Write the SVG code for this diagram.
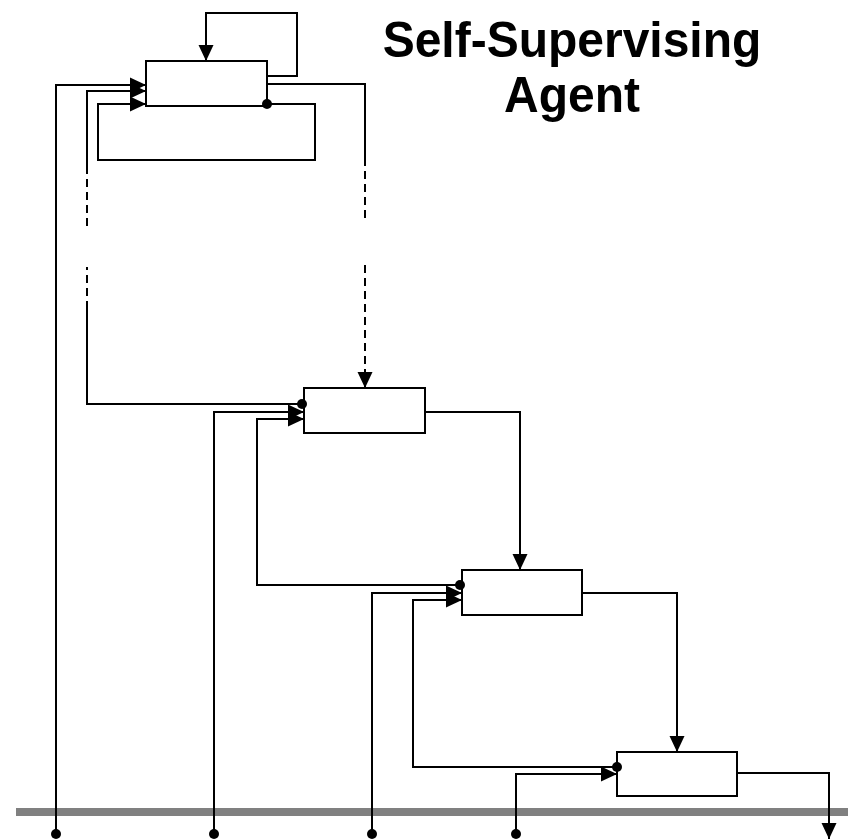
<svg xmlns="http://www.w3.org/2000/svg" width="848" height="839" viewBox="0 0 848 839">
  <style>
    .box { fill: #ffffff; stroke: #000000; stroke-width: 2; }
    .wire { fill: none; stroke: #000000; stroke-width: 2; }
    .dash { fill: none; stroke: #000000; stroke-width: 2; stroke-dasharray: 8 5; }
    .dot { fill: #000000; }
    .title { font-family: "Liberation Sans", Arial, sans-serif; font-weight: bold; font-size: 48px; fill: #000000; text-anchor: middle; }
  </style>
  <defs>
    <marker id="arrow" markerUnits="userSpaceOnUse" markerWidth="16" markerHeight="16" refX="16" refY="8" orient="auto">
      <path d="M0,0.5 L16,8 L0,15.5 Z" fill="#000000"/>
    </marker>
  </defs>

  <!-- title -->
  <g id="title">
    <text class="title" transform="translate(572,57) scale(1,1.05)">Self-Supervising</text>
    <text class="title" transform="translate(572,112) scale(1,1.05)">Agent</text>
  </g>

  <!-- environment bar -->
  <rect id="bar" x="16" y="808" width="832" height="8" fill="#808080"/>

  <g id="connectors">
    <!-- top agent self-loop -->
    <path class="wire" d="M267,76 H297 V13 H206 V61" marker-end="url(#arrow)"/>
    <!-- top agent output down to second agent (partly dashed) -->
    <path class="wire" d="M267,84 H365 V158"/>
    <path class="dash" d="M365,158 V219"/>
    <path class="dash" d="M365,265 V388" marker-end="url(#arrow)"/>
    <!-- second agent feedback up to top agent (partly dashed) -->
    <path class="wire" d="M302,404 H87 V309"/>
    <path class="dash" d="M87,309 V267"/>
    <path class="dash" d="M87,226 V173"/>
    <path class="wire" d="M87,173 V91 H146" marker-end="url(#arrow)"/>
    <!-- top agent lower loop -->
    <path class="wire" d="M267,104 H315 V160 H98 V104 H146" marker-end="url(#arrow)"/>
    <!-- sensor inputs from the bar -->
    <path class="wire" d="M56,834 V85 H146" marker-end="url(#arrow)"/>
    <path class="wire" d="M214,834 V412 H304" marker-end="url(#arrow)"/>
    <path class="wire" d="M372,834 V593 H462" marker-end="url(#arrow)"/>
    <path class="wire" d="M516,834 V774 H617" marker-end="url(#arrow)"/>
    <!-- feedback between layers -->
    <path class="wire" d="M460,585 H257 V419 H304" marker-end="url(#arrow)"/>
    <path class="wire" d="M617,767 H413 V600 H462" marker-end="url(#arrow)"/>
    <!-- downward outputs -->
    <path class="wire" d="M425,412 H520 V570" marker-end="url(#arrow)"/>
    <path class="wire" d="M582,593 H677 V752" marker-end="url(#arrow)"/>
    <path class="wire" d="M737,773 H829 V839" marker-end="url(#arrow)"/>
    <!-- sensor taps on the bar -->
    <circle class="dot" cx="56" cy="834" r="5"/>
    <circle class="dot" cx="214" cy="834" r="5"/>
    <circle class="dot" cx="372" cy="834" r="5"/>
    <circle class="dot" cx="516" cy="834" r="5"/>
  </g>

  <g id="agent1"><rect class="box" x="146" y="61" width="121" height="45"/></g>
  <g id="agent2"><rect class="box" x="304" y="388" width="121" height="45"/></g>
  <g id="agent3"><rect class="box" x="462" y="570" width="120" height="45"/></g>
  <g id="agent4"><rect class="box" x="617" y="752" width="120" height="44"/></g>

  <!-- junction dots drawn above box edges -->
  <g id="junctions">
    <circle class="dot" cx="267" cy="104" r="5"/>
    <circle class="dot" cx="302" cy="404" r="5"/>
    <circle class="dot" cx="460" cy="585" r="5"/>
    <circle class="dot" cx="617" cy="767" r="5"/>
  </g>
</svg>
